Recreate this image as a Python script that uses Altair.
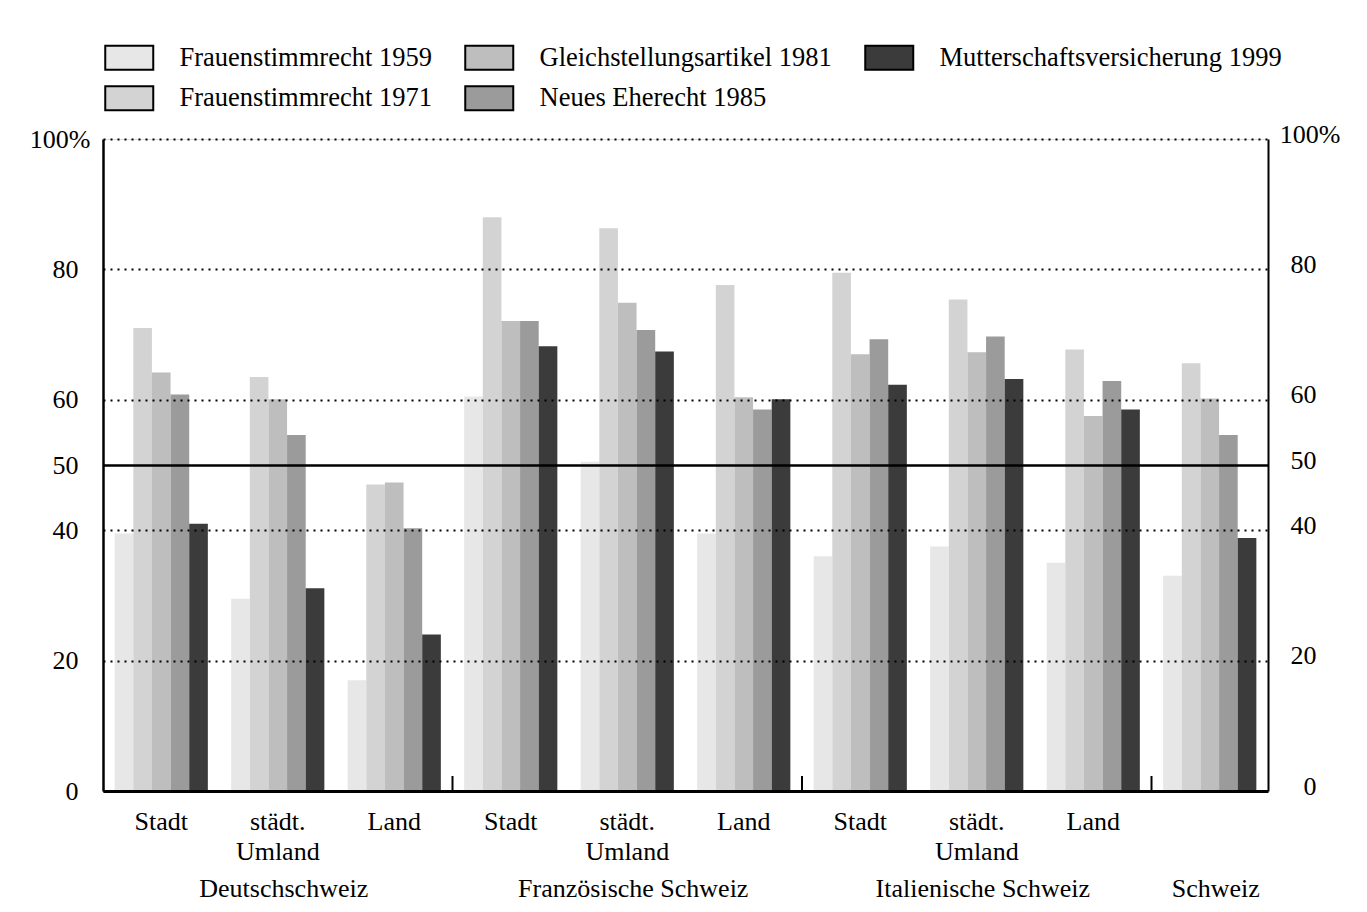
import json
import altair as alt
import pandas as pd

# ---- data ----
groups = ["DS_Stadt", "DS_Umland", "DS_Land",
          "FS_Stadt", "FS_Umland", "FS_Land",
          "IS_Stadt", "IS_Umland", "IS_Land", "CH"]
group_labels = [["Stadt"], ["städt.", "Umland"], ["Land"],
                ["Stadt"], ["städt.", "Umland"], ["Land"],
                ["Stadt"], ["städt.", "Umland"], ["Land"], [""]]
region_anchor = ["DS_Umland", "FS_Umland", "IS_Umland", "CH"]
region_names = ["Deutschschweiz", "Französische Schweiz", "Italienische Schweiz", "Schweiz"]
divider_groups = ["FS_Stadt", "IS_Stadt", "CH"]

series = ["Frauenstimmrecht 1959", "Frauenstimmrecht 1971", "Gleichstellungsartikel 1981",
          "Neues Eherecht 1985", "Mutterschaftsversicherung 1999"]
v1959 = [39.5, 29.5, 17.0, 60.5, 50.5, 39.5, 36.0, 37.5, 35.0, 33.0]
v1971 = [71.0, 63.5, 47.0, 88.0, 86.3, 77.6, 79.5, 75.4, 67.7, 65.6]
v1981 = [64.2, 60.1, 47.3, 72.1, 74.9, 60.4, 67.0, 67.3, 57.5, 60.2]
v1985 = [60.8, 54.6, 40.3, 72.1, 70.7, 58.5, 69.3, 69.7, 62.9, 54.6]
v1999 = [41.0, 31.1, 24.0, 68.2, 67.4, 60.1, 62.3, 63.2, 58.5, 38.8]
colors = ["#e7e7e7", "#d3d3d3", "#bebebe", "#9b9b9b", "#3b3b3b"]
y_ticks = [0, 20, 40, 50, 60, 80, 100]

values = [v1959, v1971, v1981, v1985, v1999]
rows = []
for s, vals in zip(series, values):
    for g, v in zip(groups, vals):
        rows.append({"group": g, "series": s, "value": v})
df = pd.DataFrame(rows)

regions_df = pd.DataFrame({"group": region_anchor, "label": region_names})
div_df = pd.DataFrame({"group": divider_groups})

FONT = "Liberation Serif"
W, H = 1165, 652
label_map = {g: l for g, l in zip(groups, group_labels)}
x_label_expr = json.dumps(label_map, ensure_ascii=False) + "[datum.value]"
y_label_expr = "datum.value == 100 ? '100%' : datum.value"

x_scale = alt.Scale(domain=groups, paddingInner=0.2, paddingOuter=0.1)
y_scale = alt.Scale(domain=[0, 100], nice=False)
x_axis = alt.Axis(title=None, labelExpr=x_label_expr, ticks=False,
                  domainColor="black", domainWidth=3, labelAngle=0,
                  labelFont=FONT, labelFontSize=26, labelColor="black",
                  labelPadding=17, labelBaseline="top", labelLineHeight=30,
                  labelLimit=0, zindex=2)
x_enc = alt.X("group:N", scale=x_scale, axis=x_axis)

bars = alt.Chart(df).mark_bar().encode(
    x=x_enc,
    xOffset=alt.XOffset("series:N", sort=series,
                        scale=alt.Scale(paddingInner=0, paddingOuter=0)),
    y=alt.Y("value:Q", scale=y_scale,
            axis=alt.Axis(title=None, values=y_ticks, labelExpr=y_label_expr,
                          grid=True, gridColor="black",
                          gridDash={"condition": {"test": "datum.value == 50", "value": []},
                                    "value": [2, 5]},
                          gridWidth={"condition": {"test": "datum.value == 50", "value": 2.5},
                                     "value": 2},
                          ticks=False, domainColor="black", domainWidth=2.5,
                          labelFont=FONT, labelFontSize=26, labelColor="black",
                          labelPadding={"condition": {"test": "datum.value == 100", "value": 13},
                                        "value": 25},
                          zindex=1)),
    color=alt.Color("series:N",
                    scale=alt.Scale(domain=series, range=colors),
                    legend=alt.Legend(title=None, orient="none", legendX=13, legendY=-95,
                                      columns=3, symbolType="M-2,-1H2V1H-2Z", symbolSize=576,
                                      symbolStrokeColor="black", symbolStrokeWidth=2,
                                      symbolOpacity=1, labelFont=FONT, labelFontSize=26.5,
                                      labelColor="black", labelOffset=37, columnPadding=29,
                                      rowPadding=8, padding=0, labelLimit=0)),
)

right_axis = alt.Chart(df).mark_bar(opacity=0).encode(
    x=x_enc,
    y=alt.Y("value:Q", scale=y_scale,
            axis=alt.Axis(title=None, orient="right", values=y_ticks, labelExpr=y_label_expr,
                          grid=False, ticks=False, domainColor="black", domainWidth=2,
                          labelFont=FONT, labelFontSize=26, labelColor="black",
                          labelAlign="right", labelOffset=-5,
                          labelPadding={"condition": {"test": "datum.value == 100", "value": 72},
                                        "value": 48})),
)

dividers = alt.Chart(div_df).mark_rule(color="black", strokeWidth=2, xOffset=-58.25).encode(
    x=x_enc,
    y=alt.value(H),
    y2=alt.value(H - 15),
)

region_text = alt.Chart(regions_df).mark_text(font=FONT, fontSize=26, color="black",
                                              baseline="middle", align="center", dx=6).encode(
    x=x_enc,
    y=alt.value(H + 98),
    text="label:N",
)

chart = alt.layer(bars, right_axis, dividers, region_text).resolve_scale(
    y="independent"
).properties(
    width=W, height=H,
    autosize=alt.AutoSizeParams(type="none"),
    padding={"left": 95, "top": 131, "right": 91, "bottom": 122},
).configure_view(stroke=None).configure(background="white")

chart.save("out.html", embed_options={"renderer": "svg", "actions": False})
